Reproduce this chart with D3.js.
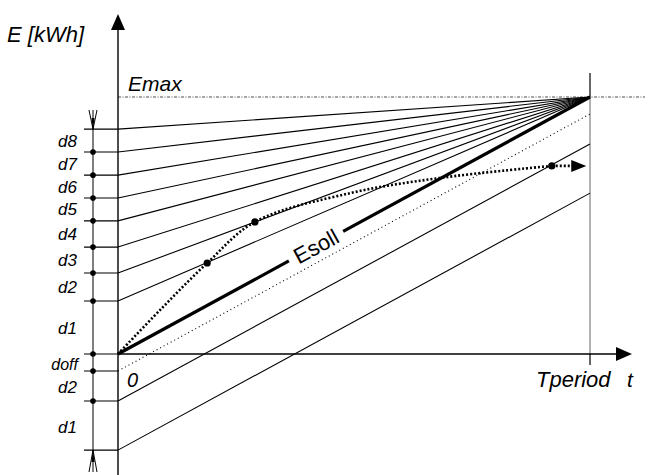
<!DOCTYPE html>
<html><head><meta charset="utf-8">
<script src="https://cdn.jsdelivr.net/npm/d3@7"></script>
<style>html,body{margin:0;padding:0;background:#fff}svg{display:block}text{font-family:"Liberation Sans",Arial,sans-serif;fill:#000}</style>
</head><body><div id="chart"></div>
<script>
// ---- data (t in % of Tperiod, E in % of Emax) ----
const T_PERIOD = 100;
const E_MAX = 100;
const upperLevels = [87.5, 78.6, 69.6, 60.7, 51.8, 41.6, 31.5, 20.6];          // start energies of the fan lines
const upperLabels = ["d8","d7","d6","d5","d4","d3","d2","d1"];
const lowerLevels = [-6.6, -18.3, -37.4];                                         // offsets of the parallel lines
const lowerLabels = ["doff","d2","d1"];
const curveT = [0, 8.9, 18.9, 29.0, 49.2, 68.2, 91.9, 99.2];                     // actual energy path
const curveE = [0, 17.1, 35.4, 51.4, 62.6, 68.5, 73.2, 73.2];
const curveDots = [2, 3, 6];                                                       // indices with markers

const W = 654, H = 475;
const x = d3.scaleLinear().domain([0, T_PERIOD]).range([118, 590]);
const y = d3.scaleLinear().domain([0, E_MAX]).range([354, 97]);

const svg = d3.select("#chart").append("svg").attr("width", W).attr("height", H);

// Emax dash-dot line
svg.append("line").attr("x1", x(0)).attr("x2", 645).attr("y1", y(E_MAX)).attr("y2", y(E_MAX))
  .attr("stroke", "#000").attr("stroke-width", 0.7).attr("stroke-dasharray", "3,1.5,1,1.5");

// Tperiod vertical
svg.append("line").attr("x1", x(T_PERIOD)).attr("x2", x(T_PERIOD)).attr("y1", y(E_MAX)).attr("y2", y(0))
  .attr("stroke", "#999").attr("stroke-width", 1.5);
svg.append("line").attr("x1", x(T_PERIOD)).attr("x2", x(T_PERIOD)).attr("y1", 73).attr("y2", y(E_MAX))
  .attr("stroke", "#000").attr("stroke-width", 1.2);
svg.append("line").attr("x1", x(T_PERIOD)).attr("x2", x(T_PERIOD)).attr("y1", y(0)).attr("y2", 365)
  .attr("stroke", "#000").attr("stroke-width", 1.2);

// fan lines to (Tperiod, Emax)
svg.selectAll("line.fan").data(upperLevels).join("line").attr("class", "fan")
  .attr("x1", x(0)).attr("y1", d => y(d)).attr("x2", x(T_PERIOD)).attr("y2", y(E_MAX))
  .attr("stroke", "#000").attr("stroke-width", 1.1);

// parallel lower lines
svg.selectAll("line.par").data(lowerLevels).join("line").attr("class", "par")
  .attr("x1", x(0)).attr("y1", d => y(d)).attr("x2", x(T_PERIOD)).attr("y2", d => y(d + E_MAX))
  .attr("stroke", "#000").attr("stroke-width", 1.1)
  .attr("stroke-dasharray", (d, i) => i === 0 ? "1,3" : null);

// Esoll thick line with gap for label
const slope = (y(E_MAX) - y(0)) / (x(T_PERIOD) - x(0));
const gapA = 36.2, gapB = 47.7; // t-range of label gap
svg.append("line").attr("x1", x(0)).attr("y1", y(0)).attr("x2", x(gapA)).attr("y2", y(gapA))
  .attr("stroke", "#000").attr("stroke-width", 3.2);
svg.append("line").attr("x1", x(gapB)).attr("y1", y(gapB)).attr("x2", x(T_PERIOD)).attr("y2", y(E_MAX))
  .attr("stroke", "#000").attr("stroke-width", 3.2);
const ang = Math.atan(slope) * 180 / Math.PI;
const mid = (gapA + gapB) / 2;
svg.append("text").attr("transform", `translate(${x(mid)},${y(mid)}) rotate(${ang})`)
  .attr("text-anchor", "middle").attr("dy", "0.36em").attr("font-size", 22).text("Esoll");

// actual path (dotted thick)
const pts = curveT.map((t, i) => [x(t), y(curveE[i])]);
svg.append("path").attr("d", d3.line().curve(d3.curveCatmullRom.alpha(0.5))(pts.slice(0, pts.length - 1)))
  .attr("fill", "none").attr("stroke", "#000").attr("stroke-width", 2.6).attr("stroke-dasharray", "2,2");
svg.append("line").attr("x1", pts[pts.length - 2][0]).attr("y1", pts[pts.length - 2][1])
  .attr("x2", pts[pts.length - 1][0] - 14).attr("y2", pts[pts.length - 1][1])
  .attr("stroke", "#000").attr("stroke-width", 2.6).attr("stroke-dasharray", "2,2");
const tip = pts[pts.length - 1];
svg.append("path").attr("d", `M${tip[0]},${tip[1]} L${tip[0] - 15},${tip[1] - 6} L${tip[0] - 15},${tip[1] + 6} Z`).attr("fill", "#000");
svg.selectAll("circle.cd").data(curveDots).join("circle").attr("class", "cd")
  .attr("cx", i => pts[i][0]).attr("cy", i => pts[i][1]).attr("r", 3.6).attr("fill", "#000");

// axes
svg.append("line").attr("x1", x(0)).attr("x2", x(0)).attr("y1", 28).attr("y2", 475).attr("stroke", "#000").attr("stroke-width", 1.4);
svg.append("path").attr("d", `M${x(0)},14 L${x(0) - 7},30 L${x(0) + 7},30 Z`).attr("fill", "#000");
svg.append("line").attr("x1", x(0)).attr("x2", 620).attr("y1", y(0)).attr("y2", y(0)).attr("stroke", "#000").attr("stroke-width", 1.4);
svg.append("path").attr("d", `M632,${y(0)} L616,${y(0) - 7} L616,${y(0) + 7} Z`).attr("fill", "#000");

// dimension chain on the left
const dimX = 93;
const chain = upperLevels.concat([0], lowerLevels);
svg.selectAll("line.ext").data(chain).join("line").attr("class", "ext")
  .attr("x1", 84).attr("x2", x(0)).attr("y1", d => y(d)).attr("y2", d => y(d))
  .attr("stroke", "#000").attr("stroke-width", 1.1);
svg.append("line").attr("x1", dimX).attr("x2", dimX).attr("y1", 110).attr("y2", 472).attr("stroke", "#000").attr("stroke-width", 1);
const topY = y(upperLevels[0]), botY = y(lowerLevels[lowerLevels.length - 1]);
svg.append("path").attr("d", `M${dimX - 4},110 L${dimX},${topY} L${dimX + 4},110`).attr("fill", "none").attr("stroke", "#000").attr("stroke-width", 1);
svg.append("path").attr("d", `M${dimX - 1.5},118 L${dimX},${topY} L${dimX + 1.5},118 Z`).attr("fill", "#000");
svg.append("path").attr("d", `M${dimX - 4},472 L${dimX},${botY} L${dimX + 4},472`).attr("fill", "none").attr("stroke", "#000").attr("stroke-width", 1);
svg.append("path").attr("d", `M${dimX - 1.5},462 L${dimX},${botY} L${dimX + 1.5},462 Z`).attr("fill", "#000");
const dotLevels = chain.slice(1, chain.length - 1);
svg.selectAll("circle.dd").data(dotLevels).join("circle").attr("class", "dd")
  .attr("cx", dimX).attr("cy", d => y(d)).attr("r", 2.8).attr("fill", "#000");

// labels between chain levels
const bounds = upperLevels.concat([0]);
upperLabels.forEach((lab, i) => {
  const m = (y(bounds[i]) + y(bounds[i + 1])) / 2;
  svg.append("text").attr("x", 77).attr("y", m + 6).attr("text-anchor", "end")
    .attr("font-size", 17).attr("font-style", "italic").text(lab);
});
const lb = [0].concat(lowerLevels);
lowerLabels.forEach((lab, i) => {
  const m = (y(lb[i]) + y(lb[i + 1])) / 2;
  svg.append("text").attr("x", lab === "doff" ? 78 : 77).attr("y", m + (lab === "doff" ? 8 : 7))
    .attr("text-anchor", "end").attr("font-size", lab === "doff" ? 16 : 17)
    .attr("font-style", "italic").text(lab);
});

// titles
svg.append("text").attr("x", 7).attr("y", 42).attr("font-size", 22).attr("font-style", "italic").text("E [kWh]");
svg.append("text").attr("x", 128).attr("y", 91).attr("font-size", 21).attr("font-style", "italic").text("Emax");
svg.append("text").attr("x", 127).attr("y", 387).attr("font-size", 20).attr("font-style", "italic").text("0");
svg.append("text").attr("x", 536).attr("y", 387).attr("font-size", 22).attr("font-style", "italic").text("Tperiod");
svg.append("text").attr("x", 627).attr("y", 387).attr("font-size", 21).attr("font-style", "italic").text("t");
</script></body></html>
